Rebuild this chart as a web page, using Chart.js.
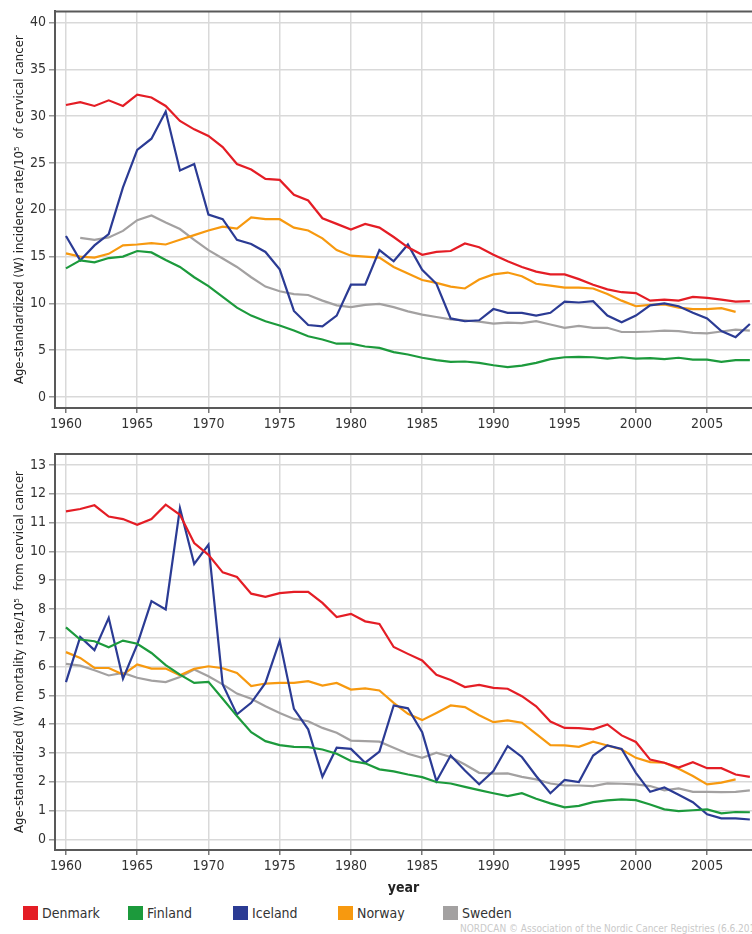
<!DOCTYPE html>
<html>
<head>
<meta charset="utf-8">
<script src="https://cdn.jsdelivr.net/npm/chart.js@4"></script>
<style>
    body {
        margin: 0;
        background: #fff;
        width: 752px;
        height: 934px;
        overflow: hidden;
        position: relative;
        font-family: 'DejaVu Sans Condensed', 'DejaVu Sans', sans-serif;
    }
    canvas { position: absolute; left: 0; }
    #incidence { top: 0; }
    #mortality { top: 440px; }
    #legend { position: absolute; left: 0; top: 906px; width: 752px; height: 16px; }
    #legend .item { position: absolute; top: 0; font-size: 14px; color: #333; line-height: 15px; white-space: nowrap; }
    #legend .box { display: inline-block; width: 15px; height: 14px; vertical-align: top; margin-right: 4px; }
    #credit {
        position: absolute; left: 460px; top: 923px; width: 292px; overflow: hidden;
        white-space: nowrap; font-size: 10px; color: #c9c9c9;
    }
</style>
</head>
<body>
<canvas id="incidence" width="752" height="440"></canvas>
<canvas id="mortality" width="752" height="462"></canvas>
<div id="legend"></div>
<div id="credit">NORDCAN © Association of the Nordic Cancer Registries (6.6.2012)</div>

<script>
const years = [];
for (let y = 1960; y <= 2008; y++) years.push(y);

const countries = ['Denmark', 'Finland', 'Iceland', 'Norway', 'Sweden'];
const colors = ['#e41d25', '#1c9a3c', '#2b3b94', '#f7990f', '#a3a1a1'];

const yearTicks = [1960, 1965, 1970, 1975, 1980, 1985, 1990, 1995, 2000, 2005];
const incidenceTicks = [0, 5, 10, 15, 20, 25, 30, 35, 40];
const mortalityTicks = [0, 1, 2, 3, 4, 5, 6, 7, 8, 9, 10, 11, 12, 13];

// incidence per 100 000, 1960-2008
const denmarkInc = [31.2, 31.5, 31.1, 31.7, 31.1, 32.3, 32.0, 31.1, 29.5, 28.6,
    27.9, 26.7, 24.9, 24.3, 23.3, 23.2, 21.6, 21.0, 19.1, 18.5,
    17.9, 18.5, 18.1, 17.1, 16.0, 15.2, 15.5, 15.6, 16.4, 16.0,
    15.2, 14.5, 13.9, 13.4, 13.1, 13.1, 12.6, 12.0, 11.5, 11.2,
    11.1, 10.3, 10.4, 10.3, 10.7, 10.6, 10.4, 10.2, 10.25];
const finlandInc = [13.75, 14.6, 14.4, 14.85, 15.0, 15.6, 15.45, 14.65, 13.9, 12.8,
    11.85, 10.7, 9.55, 8.7, 8.1, 7.65, 7.1, 6.5, 6.15, 5.7,
    5.7, 5.4, 5.25, 4.8, 4.55, 4.2, 3.95, 3.75, 3.8, 3.65,
    3.4, 3.2, 3.35, 3.65, 4.05, 4.25, 4.3, 4.25, 4.1, 4.25,
    4.1, 4.15, 4.05, 4.2, 4.0, 4.0, 3.75, 3.95, 3.95];
const icelandInc = [17.2, 14.6, 16.2, 17.4, 22.4, 26.4, 27.6, 30.5, 24.2, 24.9,
    19.5, 19.0, 16.8, 16.35, 15.5, 13.65, 9.2, 7.7, 7.55, 8.7,
    12.0, 12.0, 15.7, 14.5, 16.3, 13.6, 12.1, 8.4, 8.1, 8.2,
    9.4, 9.0, 9.0, 8.7, 9.0, 10.2, 10.1, 10.25, 8.7, 8.0,
    8.7, 9.8, 10.0, 9.7, 9.0, 8.4, 7.05, 6.4, 7.8];
const norwayInc = [15.35, 15.0, 14.9, 15.3, 16.2, 16.3, 16.45, 16.3, 16.8, 17.3,
    17.8, 18.2, 18.0, 19.2, 19.0, 19.0, 18.1, 17.8, 16.95, 15.7,
    15.1, 15.0, 14.9, 13.9, 13.2, 12.5, 12.2, 11.8, 11.6, 12.55,
    13.1, 13.3, 12.9, 12.1, 11.9, 11.7, 11.7, 11.6, 11.0, 10.3,
    9.7, 9.85, 9.9, 9.55, 9.4, 9.4, 9.5, 9.1, null];
const swedenInc = [null, 17.0, 16.8, 17.05, 17.75, 18.9, 19.4, 18.65, 17.95, 16.8,
    15.7, 14.8, 13.9, 12.8, 11.8, 11.3, 11.0, 10.9, 10.3, 9.8,
    9.6, 9.85, 9.95, 9.6, 9.15, 8.8, 8.55, 8.3, 8.2, 8.05,
    7.85, 7.95, 7.9, 8.1, 7.75, 7.4, 7.6, 7.4, 7.4, 6.95,
    6.95, 7.0, 7.1, 7.05, 6.85, 6.8, 7.0, 7.2, 7.1];

// mortality per 100 000, 1960-2008
const denmarkMort = [11.39, 11.47, 11.6, 11.21, 11.12, 10.92, 11.12, 11.62, 11.27, 10.29,
    9.88, 9.27, 9.11, 8.53, 8.42, 8.55, 8.59, 8.59, 8.21, 7.72,
    7.83, 7.57, 7.48, 6.68, 6.44, 6.21, 5.71, 5.53, 5.29, 5.36,
    5.26, 5.23, 4.97, 4.62, 4.09, 3.87, 3.86, 3.82, 3.99, 3.61,
    3.38, 2.77, 2.66, 2.49, 2.68, 2.47, 2.47, 2.25, 2.17];
const finlandMort = [7.36, 6.94, 6.88, 6.67, 6.9, 6.79, 6.47, 6.05, 5.72, 5.43,
    5.47, 4.88, 4.28, 3.72, 3.41, 3.27, 3.21, 3.2, 3.12, 2.97,
    2.72, 2.64, 2.43, 2.36, 2.25, 2.16, 1.99, 1.94, 1.82, 1.71,
    1.6, 1.5, 1.6, 1.41, 1.25, 1.11, 1.16, 1.29, 1.35, 1.39,
    1.36, 1.21, 1.04, 0.98, 1.01, 1.04, 0.9, 0.95, 0.94];
const icelandMort = [5.46, 7.03, 6.57, 7.69, 5.58, 6.76, 8.27, 7.98, 11.5, 9.56,
    10.23, 5.38, 4.34, 4.74, 5.43, 6.9, 4.53, 3.82, 2.17, 3.18,
    3.14, 2.66, 3.05, 4.65, 4.55, 3.72, 2.02, 2.91, 2.39, 1.91,
    2.37, 3.24, 2.86, 2.2, 1.6, 2.06, 1.99, 2.91, 3.26, 3.14,
    2.31, 1.65, 1.8, 1.55, 1.29, 0.87, 0.73, 0.73, 0.69];
const norwayMort = [6.5, 6.3, 5.95, 5.95, 5.72, 6.07, 5.93, 5.93, 5.7, 5.92,
    6.01, 5.94, 5.78, 5.32, 5.41, 5.43, 5.43, 5.49, 5.34, 5.43,
    5.2, 5.24, 5.17, 4.74, 4.36, 4.14, 4.39, 4.65, 4.59, 4.31,
    4.07, 4.13, 4.05, 3.66, 3.27, 3.26, 3.21, 3.39, 3.26, 3.12,
    2.83, 2.68, 2.66, 2.45, 2.2, 1.91, 1.97, 2.08, null];
const swedenMort = [6.09, 6.03, 5.87, 5.69, 5.78, 5.61, 5.51, 5.46, 5.64, 5.9,
    5.66, 5.38, 5.06, 4.88, 4.62, 4.39, 4.18, 4.1, 3.87, 3.7,
    3.43, 3.41, 3.39, 3.18, 2.97, 2.83, 3.01, 2.86, 2.6, 2.31,
    2.28, 2.29, 2.17, 2.08, 1.94, 1.87, 1.87, 1.85, 1.94, 1.93,
    1.91, 1.85, 1.7, 1.77, 1.65, 1.65, 1.64, 1.65, 1.7];

const incidence = [denmarkInc, finlandInc, icelandInc, norwayInc, swedenInc];
const mortality = [denmarkMort, finlandMort, icelandMort, norwayMort, swedenMort];

const FONT = "'DejaVu Sans Condensed', 'DejaVu Sans', sans-serif";

// ---------------------------------------------------------->

const toPoints = values =>
    years.map((yr, i) => ({ x: yr, y: values[i] })).filter(p => p.y !== null);

const makeDatasets = series =>
    series.map((values, i) => ({
        label: countries[i],
        data: toPoints(values),
        borderColor: colors[i],
        backgroundColor: colors[i],
        borderWidth: 2.2,
        pointRadius: 0,
        tension: 0,
    }));

// chart.js only draws the border on the axis side, so add the top one
const topBorder = {
    id: 'topBorder',
    afterDraw(chart) {
        const { ctx, chartArea } = chart;
        ctx.save();
        ctx.strokeStyle = '#595959';
        ctx.lineWidth = 2;
        ctx.beginPath();
        ctx.moveTo(chartArea.left - 1, chartArea.top);
        ctx.lineTo(chartArea.right, chartArea.top);
        ctx.stroke();
        ctx.restore();
    },
};

function makeChart(canvas, series, yTicks, yMin, yMax, yTitle, padTop, xHeight, showYear) {
    return new Chart(canvas, {
        type: 'line',
        data: { datasets: makeDatasets(series) },
        options: {
            responsive: false,
            animation: false,
            layout: { padding: { top: padTop, left: 0, right: 0, bottom: 0 } },
            plugins: {
                legend: { display: false },
                tooltip: { enabled: false },
            },
            scales: {
                x: {
                    type: 'linear',
                    min: 1959.23,
                    max: 2008.15,
                    afterBuildTicks: scale => {
                        scale.ticks = yearTicks.map(v => ({ value: v }));
                    },
                    afterFit: scale => {
                        scale.height = xHeight;
                    },
                    grid: {
                        color: '#d9d9d9',
                        lineWidth: 1.5,
                        tickLength: 5,
                        tickColor: '#777',
                    },
                    border: { display: true, color: '#595959', width: 2 },
                    ticks: {
                        autoSkip: false,
                        maxRotation: 0,
                        padding: 3,
                        color: '#333',
                        font: { family: FONT, size: 14 },
                        callback: v => String(v),
                    },
                    title: {
                        display: showYear,
                        text: 'year',
                        color: '#222',
                        padding: { top: 0, bottom: 5 },
                        font: { family: FONT, size: 14, weight: 'bold' },
                    },
                },
                y: {
                    min: yMin,
                    max: yMax,
                    afterBuildTicks: scale => {
                        scale.ticks = yTicks.map(v => ({ value: v }));
                    },
                    afterFit: scale => {
                        scale.width = 55;
                    },
                    grid: {
                        color: '#d9d9d9',
                        lineWidth: 1.5,
                        tickLength: 6,
                        tickColor: '#999',
                    },
                    border: { display: true, color: '#595959', width: 2 },
                    ticks: {
                        autoSkip: false,
                        padding: 3,
                        color: '#333',
                        font: { family: FONT, size: 14 },
                    },
                    title: {
                        display: true,
                        text: yTitle,
                        color: '#222',
                        padding: { top: 12, bottom: 0 },
                        font: { family: FONT, size: 13 },
                    },
                },
            },
        },
        plugins: [topBorder],
    });
}

makeChart(
    document.getElementById('incidence'),
    incidence, incidenceTicks, -1.17, 41.2,
    'Age-standardized (W) incidence rate/10\u2075  of cervical cancer',
    10, 32, false
);

makeChart(
    document.getElementById('mortality'),
    mortality, mortalityTicks, -0.37, 13.38,
    'Age-standardized (W) mortality rate/10\u2075  from cervical cancer',
    14, 52, true
);

// ---------------------------------------------------------->

const legend = document.getElementById('legend');
countries.forEach((name, i) => {
    const item = document.createElement('div');
    item.className = 'item';
    item.style.left = 23 + i * 105 + 'px';
    const box = document.createElement('span');
    box.className = 'box';
    box.style.background = colors[i];
    item.appendChild(box);
    item.appendChild(document.createTextNode(name));
    legend.appendChild(item);
});
</script>
</body>
</html>
